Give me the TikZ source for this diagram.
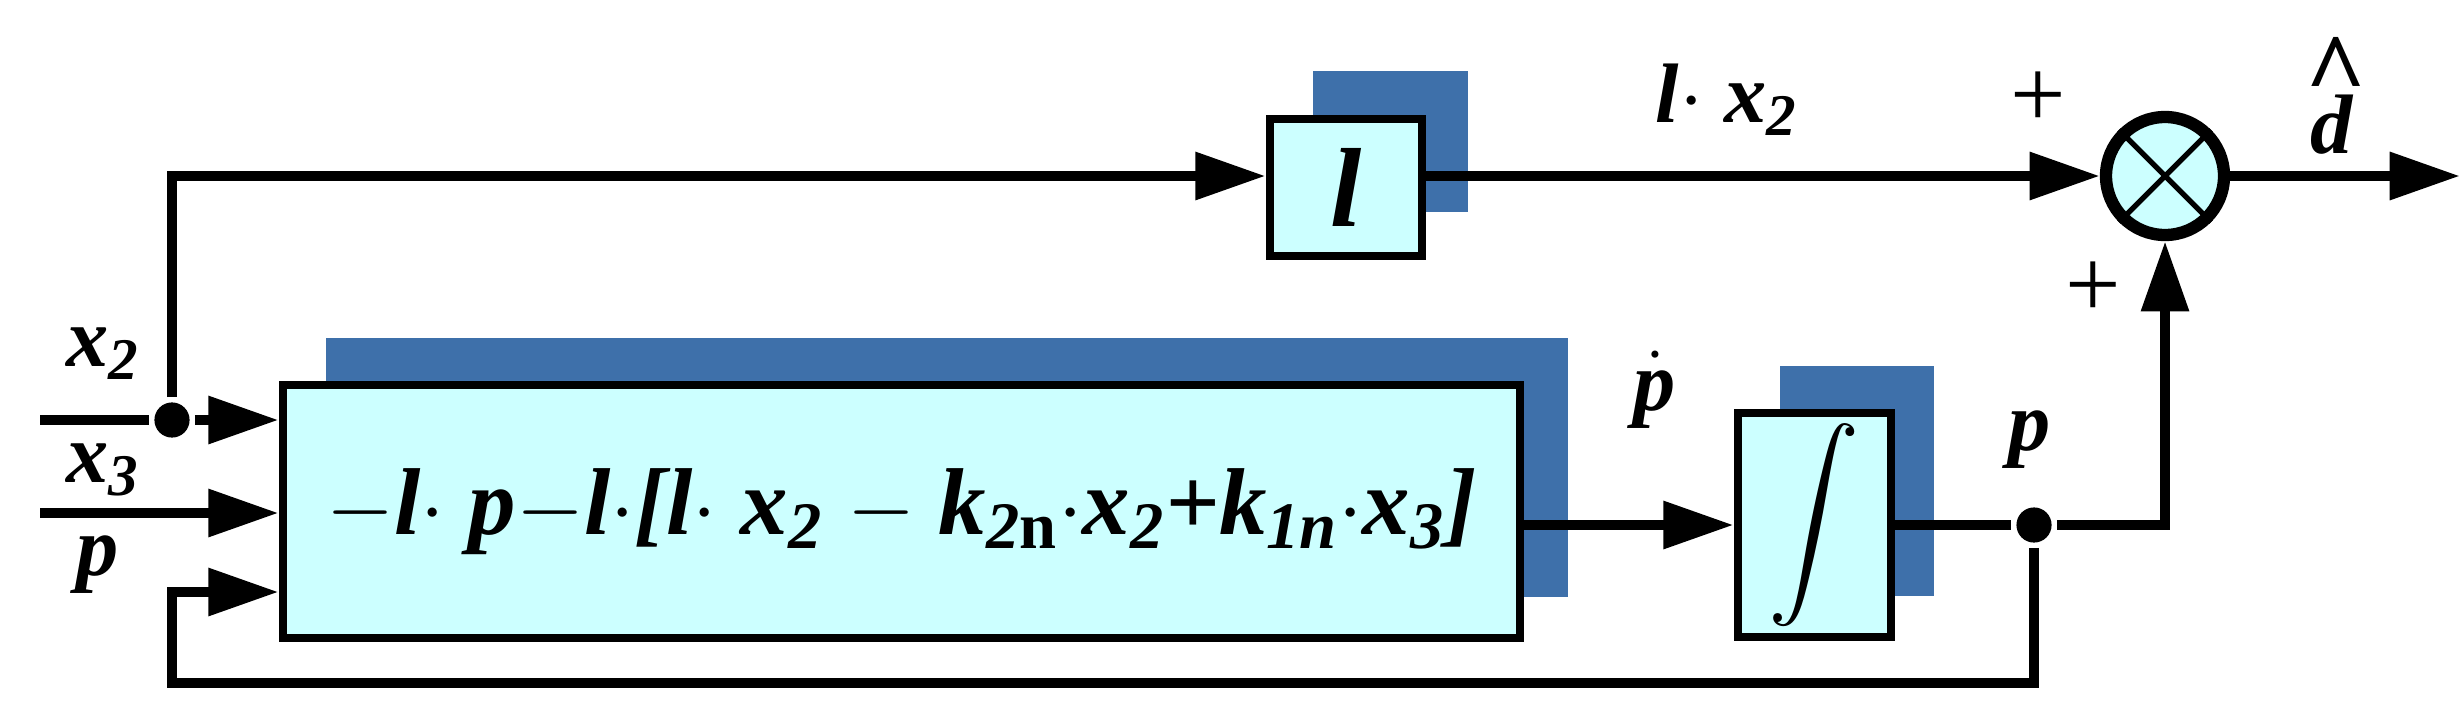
\documentclass[tikz,border=0pt]{standalone}
\usepackage{fontspec}
\usepackage{graphicx}
\setmainfont{Liberation Serif}
\usetikzlibrary{arrows.meta}
\definecolor{boxfill}{RGB}{204,255,255}
\definecolor{shade}{RGB}{62,112,170}
\begin{document}
\begin{tikzpicture}[x=0.01cm,y=-0.01cm,
  line width=3pt,
  arr/.style={-{Triangle[length=20pt,width=13pt]}},
  blk/.style={draw,fill=boxfill,line width=2.5pt,inner sep=0pt},
  shd/.style={fill=shade,draw=none},
  lbl/.style={font=\fontsize{24}{26}\selectfont\bfseries\itshape},
  dot/.style={circle,fill=black,inner sep=0pt,minimum size=10pt}]
\useasboundingbox (0,0) rectangle (2461,721);
% shadows
\fill[shd] (326,338) rectangle (1568,597);
\fill[shd] (1313,71) rectangle (1468,212);
\fill[shd] (1780,366) rectangle (1934,596);
% blocks
\node[blk,minimum width=1237*0.01cm,minimum height=253*0.01cm] (F) at (901.5,511.5) {};
\node[lbl,font=\fontsize{27}{29}\selectfont\bfseries\itshape] at (F) {$-$\textit{l}$\cdot$ \textit{p}$-$\textit{l}$\cdot$[\textit{l}$\cdot$ \textit{x}\textsubscript{2} $-$ \textit{k}\textsubscript{2\upshape n}$\cdot$\textit{x}\textsubscript{2}+\textit{k}\textsubscript{1\textit{n}}$\cdot$\textit{x}\textsubscript{3}]};
\node[blk,minimum width=152*0.01cm,minimum height=137*0.01cm,lbl] (L) at (1346,187.5) {\fontsize{32}{34}\selectfont\textit{l}};
\node[blk,minimum width=153*0.01cm,minimum height=224*0.01cm] (I) at (1814.5,525) {\scalebox{2.6}{$\displaystyle\int$}};
\node[draw,fill=boxfill,circle,minimum size=118*0.01cm,line width=3.5pt,inner sep=0pt] (S) at (2165,176) {};
\draw[line width=1.5pt] (S.north west) -- (S.south east) (S.north east) -- (S.south west);
% coordinates
\coordinate (a) at (172,420);
\coordinate (x2in) at (40,420);
\coordinate (x3in) at (40,513);
\coordinate (pb) at (2034,525);
\coordinate (out) at (2460,176);
\node[dot] (da) at (a) {};
\node[dot] (dp) at (pb) {};
% connectors
\draw (x2in) -- (da);
\draw[arr] (da) -- (F.west |- da);
\draw[arr] (da) |- (L.west |- S);
\draw[arr] (x3in) -- (F.west |- x3in);
\draw[arr] (L.east |- S) -- (S.west);
\draw[arr] (S.east) -- (out);
\draw[arr] (F.east |- I) -- (I.west);
\draw (I.east) -- (dp);
\draw[arr] (dp) -| (S.south);
\draw[arr] (dp) -- (2034,683) -| (172,592) -- (F.west |- 0,592);
% labels
\node[lbl] at (103,354) {\textit{x}\textsubscript{2}};
\node[lbl] at (103,470) {\textit{x}\textsubscript{3}};
\node[lbl] at (98,565) {\textit{p}};
\node[lbl] at (1655,390) {$\dot{\textit{p}}$};
\node[lbl] at (2030,440) {\textit{p}};
\node[lbl] at (1727,100) {\textit{l}$\cdot$ \textit{x}\textsubscript{2}};
\node[lbl,font=\fontsize{28}{28}\selectfont] at (2038,100) {+};
\node[lbl,font=\fontsize{28}{28}\selectfont] at (2093,290) {+};
\node[lbl] (dh) at (2332,125) {\textit{d}};
\node[lbl,font=\fontsize{30}{30}\selectfont\bfseries] at (2336,72) {\^{}};
\end{tikzpicture}
\end{document}
